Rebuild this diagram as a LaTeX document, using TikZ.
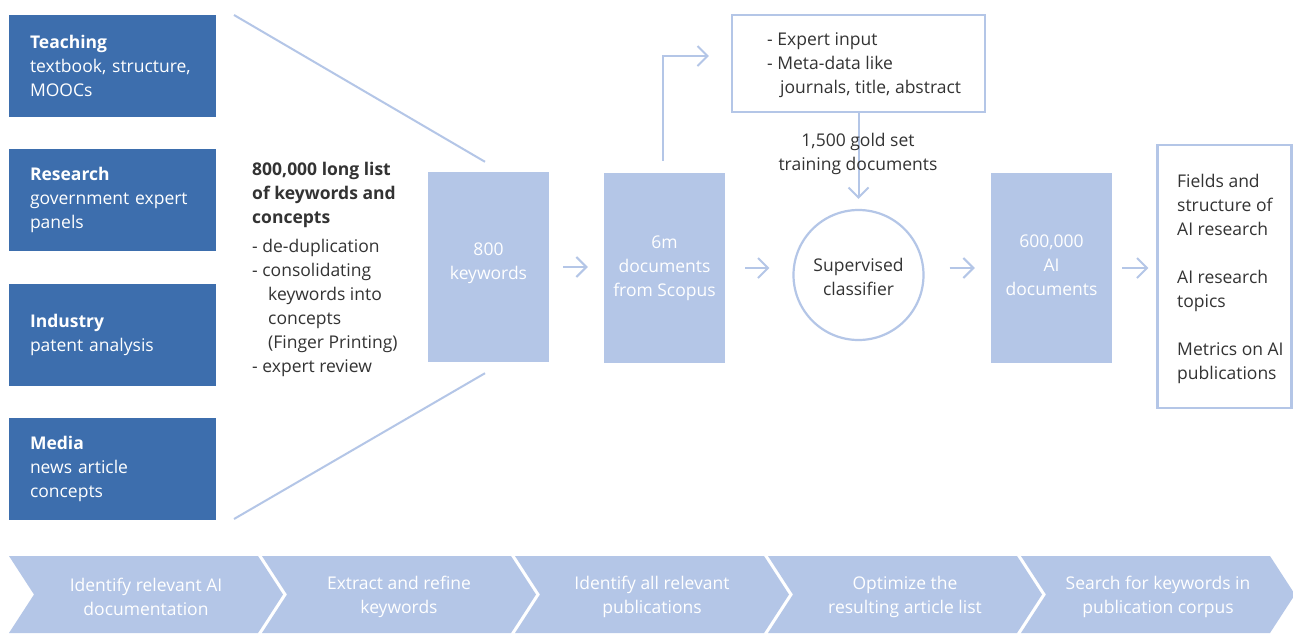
\documentclass[tikz,border=0pt]{standalone}
\usepackage{fontspec}
\setmainfont{Open Sans}
\usetikzlibrary{arrows.meta,calc}
\definecolor{srcblue}{HTML}{3D6EAD}
\definecolor{paleblue}{HTML}{B4C6E7}
\definecolor{ink}{HTML}{333333}
\begin{document}
\begin{tikzpicture}[x=1pt,y=-1pt,
  font=\fontsize{17.5}{24}\selectfont, text=ink,
  source/.style={fill=srcblue, text=white, minimum width=207pt, minimum height=102pt,
    text width=165pt, align=left, inner xsep=21pt, inner ysep=0pt},
  stage/.style={fill=paleblue, minimum width=121pt, minimum height=190pt, inner sep=0pt},
  stagetext/.style={text=white, align=center, inner sep=0pt},
  frame/.style={draw=paleblue, line width=2.2pt, fill=white, inner sep=0pt},
  link/.style={draw=paleblue, line width=2pt},
  arr/.style={draw=paleblue, line width=2pt, -{Straight Barb[length=10pt,width=20pt,line width=2pt]}},
  label/.style={align=left, anchor=west, inner sep=0pt},
  chevtext/.style={text=white, align=center, inner sep=0pt}]
\useasboundingbox (0,0) rectangle (1293,633);
\fill[white] (0,0) rectangle (1293,633);

% sources of AI documentation
\node[source] (teach) at (112.5,66)  {\textbf{Teaching}\\textbook, structure,\\MOOCs};
\node[source] (resrch) at (112.5,200) {\textbf{Research}\\government expert\\panels};
\node[source] (indus) at (112.5,335) {\textbf{Industry}\\patent analysis};
\node[source] (media) at (112.5,469) {\textbf{Media}\\news article\\concepts};

% long list of keywords
\node[label] (longlist) at (252,269.5) {\textbf{800,000 long list}\\\textbf{of keywords and}\\\textbf{concepts}\\[5pt]- de-duplication\\- consolidating\\\hspace*{16pt}keywords into\\\hspace*{16pt}concepts\\\hspace*{16pt}(Finger Printing)\\- expert review};

% funnel lines
\coordinate (funnelTop) at (234,15);
\coordinate (funnelBot) at (234,519);

% pipeline stages
\node[stage] (kw)   at (488.5,267) {};
\node[stagetext] (kwText) at (488.5,263) {800\\keywords};
\node[stage] (docs) at (664.5,268) {};
\node[stagetext] (docsText) at (664.5,268) {6m\\documents\\from Scopus};
\node[frame, circle, minimum size=130pt] (clf) at (858.5,275) {};
\node[align=center, inner sep=0pt] (clfText) at (858.5,277) {Supervised\\classifier};
\node[stage] (ai)   at (1051.5,268) {};
\node[stagetext] (aiText) at (1051.5,265) {600,000\\AI\\documents};

\draw[link] (funnelTop) -- ([xshift=-3.5pt,yshift=10pt]kw.north);
\draw[link] (funnelBot) -- ([xshift=-3.5pt,yshift=-11pt]kw.south);

% expert input box
\node[frame, minimum width=253pt, minimum height=97pt] (expert) at (858.5,63.5) {};
\node[label] (expertText) at (767,65) {- Expert input\\- Meta-data like\\\hspace*{13pt}journals, title, abstract};

% output box
\node[frame, minimum width=134pt, minimum height=263pt] (out) at (1224.5,276.5) {};
\node[label] (outText) at (1177,279) {Fields and\\structure of\\AI research\\[24pt]AI research\\topics\\[24pt]Metrics on AI\\publications};

% connectors
\draw[arr, shorten <=14pt, shorten >=16pt] (kw.east) -- (kw.east -| docs.west);
\draw[arr, shorten <=20pt, shorten >=23pt] (docs.east) -- (docs.east -| clf.west);
\draw[arr, shorten <=25pt, shorten >=16pt] (clf.east |- ai.west) -- (ai.west);
\draw[arr, shorten <=10pt, shorten >=8pt] (ai.east) -- (ai.east -| out.west);
\draw[arr] ([xshift=-1.5pt,yshift=12pt]docs.north) |- ([xshift=-22pt,yshift=7.5pt]expert.west);
\draw[arr] (expert.south) -- ([yshift=10pt]clf.north);
\node[align=center, inner sep=0pt] (gold) at (858,154) {1,500 gold set\\training documents};

% process chevrons
\foreach \x/\txt [count=\i] in {9/{Identify relevant AI\\documentation},
    262/{Extract and refine\\keywords},
    515/{Identify all relevant\\publications},
    768/{Optimize the\\resulting article list},
    1021/{Search for keywords in\\publication corpus}} {
  \fill[paleblue] (\x,556) -- ++(249,0) -- ++(25,38.5) -- ++(-25,38.5) -- ++(-249,0) -- ++(25,-38.5) -- cycle;
  \node[chevtext] (chev\i) at (\x+137,597) {\txt};
}
\end{tikzpicture}
\end{document}
